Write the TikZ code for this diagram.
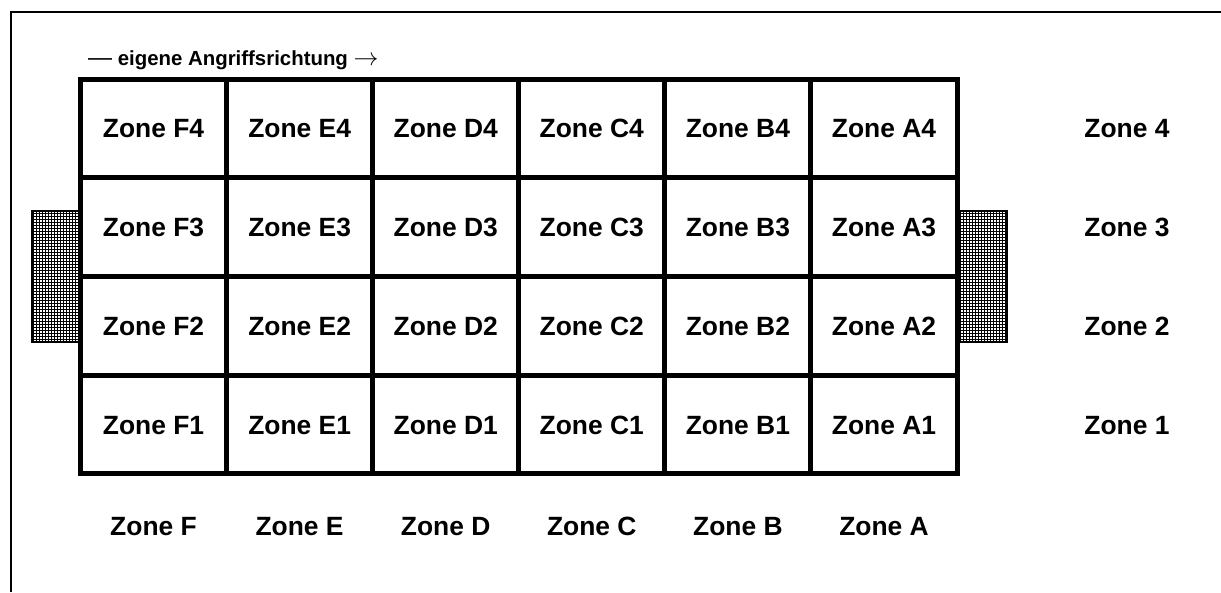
\documentclass[tikz,border=0pt]{standalone}
\usepackage{fontspec}
\setmainfont{Liberation Sans}
\usepackage{tikz}

\tikzset{
  zone/.style={draw, line width=5pt, minimum width=146.1pt, minimum height=98.75pt,
    inner sep=0pt, text height=19pt, text depth=0pt, font=\fontsize{26.4}{30}\selectfont\bfseries},
  zonelabel/.style={inner sep=0pt, text height=19pt, text depth=0pt,
    font=\fontsize{26.4}{30}\selectfont\bfseries},
  netz/.style={line width=0.8pt}
}

\begin{document}
\begin{tikzpicture}[x=1pt,y=-1pt]
\useasboundingbox (0,0) rectangle (1221,592);

% Rahmen
\draw[line width=2pt] (1221,12) -| (11,592);

% Tore
\fill[white] (32,211) rectangle (78,342);
\draw[netz,xstep=3pt,ystep=3pt] (32,342) grid (78,211);
\draw[line width=1.5pt] (78,211) -| (32,342) -- (78,342);
\fill[white] (960,211) rectangle (1007,342);
\draw[netz,xstep=3pt,ystep=3pt] (960,342) grid (1007,211);
\draw[line width=1.5pt] (960,211) -| (1007,342) -- (960,342);

% Reihe 4
\node[zone] (F4) at (153.5,128.4) {Zone F4};
\node[zone] (E4) at (299.6,128.4) {Zone E4};
\node[zone] (D4) at (445.7,128.4) {Zone D4};
\node[zone] (C4) at (591.8,128.4) {Zone C4};
\node[zone] (B4) at (737.9,128.4) {Zone B4};
\node[zone] (A4) at (884.0,128.4) {Zone A4};

% Reihe 3
\node[zone] (F3) at (153.5,227.1) {Zone F3};
\node[zone] (E3) at (299.6,227.1) {Zone E3};
\node[zone] (D3) at (445.7,227.1) {Zone D3};
\node[zone] (C3) at (591.8,227.1) {Zone C3};
\node[zone] (B3) at (737.9,227.1) {Zone B3};
\node[zone] (A3) at (884.0,227.1) {Zone A3};

% Reihe 2
\node[zone] (F2) at (153.5,325.9) {Zone F2};
\node[zone] (E2) at (299.6,325.9) {Zone E2};
\node[zone] (D2) at (445.7,325.9) {Zone D2};
\node[zone] (C2) at (591.8,325.9) {Zone C2};
\node[zone] (B2) at (737.9,325.9) {Zone B2};
\node[zone] (A2) at (884.0,325.9) {Zone A2};

% Reihe 1
\node[zone] (F1) at (153.5,424.6) {Zone F1};
\node[zone] (E1) at (299.6,424.6) {Zone E1};
\node[zone] (D1) at (445.7,424.6) {Zone D1};
\node[zone] (C1) at (591.8,424.6) {Zone C1};
\node[zone] (B1) at (737.9,424.6) {Zone B1};
\node[zone] (A1) at (884.0,424.6) {Zone A1};

% Spalten unten
\node[zonelabel] (F) at (153.5,526) {Zone F};
\node[zonelabel] (E) at (299.6,526) {Zone E};
\node[zonelabel] (D) at (445.7,526) {Zone D};
\node[zonelabel] (C) at (591.8,526) {Zone C};
\node[zonelabel] (B) at (737.9,526) {Zone B};
\node[zonelabel] (A) at (884.0,526) {Zone A};

% Reihen rechts
\node[zonelabel] (r4) at (1127,128.4) {Zone 4};
\node[zonelabel] (r3) at (1127,227.1) {Zone 3};
\node[zonelabel] (r2) at (1127,325.9) {Zone 2};
\node[zonelabel] (r1) at (1127,424.6) {Zone 1};

% Angriffsrichtung
\node[anchor=base west, inner sep=0pt, font=\fontsize{20.4}{22}\selectfont] (richtung) at (88,65)
  {{\fontsize{24}{24}\selectfont —} \textbf{eigene Angriffsrichtung}
   {\fontsize{23}{23}\selectfont$\rightarrow$}};
\end{tikzpicture}
\end{document}
